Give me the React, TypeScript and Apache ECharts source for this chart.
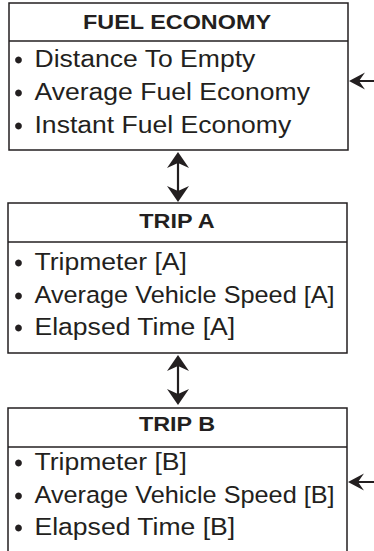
import React, { useEffect, useRef } from "react";
import * as echarts from "echarts";

const titles = ["FUEL ECONOMY", "TRIP A", "TRIP B"];
const items = [
  ["Distance To Empty", "Average Fuel Economy", "Instant Fuel Economy"],
  ["Tripmeter [A]", "Average Vehicle Speed [A]", "Elapsed Time [A]"],
  ["Tripmeter [B]", "Average Vehicle Speed [B]", "Elapsed Time [B]"],
];

const INK = "#231f20";
const FONT = "'Liberation Sans', Arial, Helvetica, sans-serif";
const ITEM_FONT = `23.5px ${FONT}`;
const TEXT_X = 34.5;
const MAX_RIGHT = 335;

// layout per box
const boxes = [
  { x1: 9, x2: 348, top: 3, div: 41, bottom: 150, head: 22, rows: [59, 92, 125], open: false },
  { x1: 8, x2: 347, top: 203, div: 242, bottom: 353, head: 221, rows: [262, 295, 327], open: false },
  { x1: 8, x2: 347, top: 408, div: 447, bottom: 560, head: 424, rows: [462, 495, 527], open: true },
];

function measure(text: string, font: string): number {
  const c = document.createElement("canvas").getContext("2d");
  if (!c) return text.length * 12;
  c.font = font;
  return c.measureText(text).width;
}

function vArrow(x: number, y1: number, y2: number): any[] {
  const hw = 11, hl = 16, notch = 11;
  return [
    { type: "line", shape: { x1: x, y1: y1 + 6, x2: x, y2: y2 - 6 }, style: { stroke: INK, lineWidth: 2.2 } },
    { type: "polygon", shape: { points: [[x, y1], [x + hw, y1 + hl], [x, y1 + notch], [x - hw, y1 + hl]] }, style: { fill: INK } },
    { type: "polygon", shape: { points: [[x, y2], [x + hw, y2 - hl], [x, y2 - notch], [x - hw, y2 - hl]] }, style: { fill: INK } },
  ];
}

function hArrow(x: number, y: number, xEnd: number): any[] {
  const hw = 8.5, hl = 16, notch = 10;
  return [
    { type: "line", shape: { x1: x + 6, y1: y, x2: xEnd, y2: y }, style: { stroke: INK, lineWidth: 2 } },
    { type: "polygon", shape: { points: [[x, y], [x + hl, y - hw], [x + notch, y], [x + hl, y + hw]] }, style: { fill: INK } },
  ];
}

export default function App() {
  const ref = useRef<HTMLDivElement>(null);
  useEffect(() => {
    if (!ref.current) return;
    const chart = echarts.init(ref.current, undefined, { renderer: "svg" });
    const g: any[] = [];
    boxes.forEach((b, i) => {
      const lw = 1.5;
      if (b.open) {
        g.push({ type: "polyline", shape: { points: [[b.x1, b.bottom], [b.x1, b.top], [b.x2, b.top], [b.x2, b.bottom]] }, style: { stroke: INK, lineWidth: lw, fill: "none" } });
      } else {
        g.push({ type: "rect", shape: { x: b.x1, y: b.top, width: b.x2 - b.x1, height: b.bottom - b.top }, style: { stroke: INK, lineWidth: lw, fill: "none" } });
      }
      g.push({ type: "line", shape: { x1: b.x1, y1: b.div, x2: b.x2, y2: b.div }, style: { stroke: INK, lineWidth: lw } });
      g.push({
        type: "text", x: 177, y: b.head, scaleX: 1.17,
        style: { text: titles[i], fill: INK, font: `bold 20px ${FONT}`, textAlign: "center", textVerticalAlign: "middle" },
      });
      items[i].forEach((t, j) => {
        const w = measure(t, ITEM_FONT);
        const sx = Math.min(1.13, (MAX_RIGHT - TEXT_X) / w);
        g.push({ type: "circle", shape: { cx: 18.5, cy: b.rows[j] + 1, r: 3.4 }, style: { fill: INK } });
        g.push({
          type: "text", x: TEXT_X, y: b.rows[j], scaleX: sx,
          style: { text: t, fill: INK, font: ITEM_FONT, textAlign: "left", textVerticalAlign: "middle" },
        });
      });
    });
    g.push(...vArrow(178, 152, 202));
    g.push(...vArrow(178, 355, 405));
    g.push(...hArrow(349, 81, 374));
    g.push(...hArrow(348, 482, 374));
    chart.setOption({ animation: false, graphic: { elements: g } });
    return () => chart.dispose();
  }, []);
  return (
    <div
      ref={ref}
      style={{ position: "fixed", left: 0, top: 0, width: 374, height: 551, background: "#fff" }}
    />
  );
}
